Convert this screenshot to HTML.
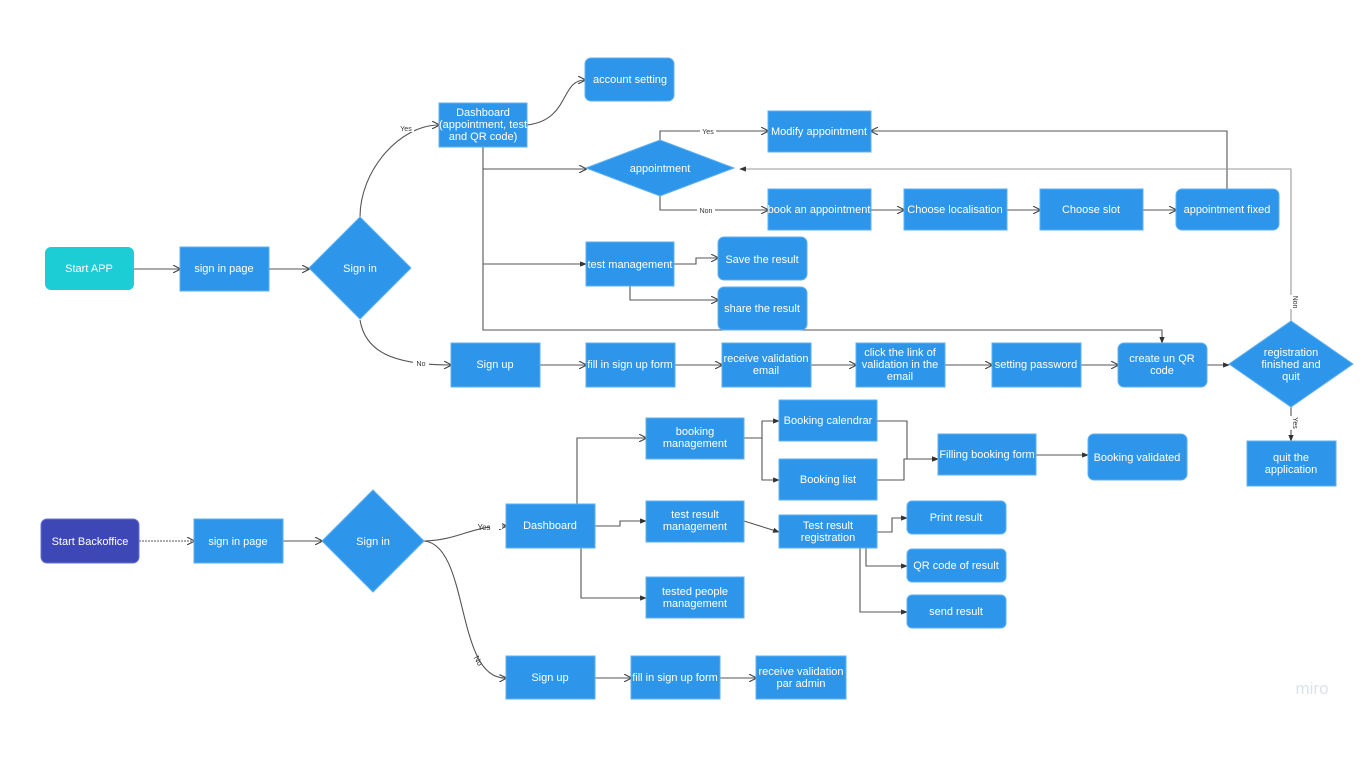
<!DOCTYPE html>
<html><head><meta charset="utf-8"><style>
html,body{margin:0;padding:0;background:#fff;}
svg{display:block}
text{font-family:"Liberation Sans",sans-serif;font-size:11px;fill:#fff;text-anchor:middle;}
.l{fill:#333;font-size:7px;}
path.e{fill:none;stroke:#555;stroke-width:1.1;}
.b{fill:#2d96ea;stroke:#5fb0f0;stroke-width:1;}
</style></head><body>
<svg width="1366" height="768" viewBox="0 0 1366 768" xmlns="http://www.w3.org/2000/svg">
<defs><marker id="a" viewBox="0 0 10 10" refX="9" refY="5" markerWidth="7" markerHeight="7" orient="auto"><path d="M0,0 L10,5 L0,10" fill="none" stroke="#444" stroke-width="1.5"/></marker>
<marker id="f" viewBox="0 0 10 10" refX="9" refY="5" markerWidth="6" markerHeight="6" orient="auto"><path d="M0,1 L10,5 L0,9 z" fill="#333"/></marker></defs>

<!-- edges top -->
<path class="e" d="M134,269 H180" marker-end="url(#a)"/>
<path class="e" d="M269,269 H309" marker-end="url(#a)"/>
<path class="e" d="M360,217 C360,170 400,125 439,125" marker-end="url(#a)"/>
<path class="e" d="M360,320 C365,350 390,365 451,365" marker-end="url(#a)"/>
<path class="e" d="M527,125 C570,120 560,80 585,80" marker-end="url(#a)"/>
<path class="e" d="M483,147 V330 H1162 V343" marker-end="url(#f)"/>
<path class="e" d="M483,169 H586" marker-end="url(#a)"/>
<path class="e" d="M483,264 H586" marker-end="url(#f)"/>
<path class="e" d="M660,140 V131 H768" marker-end="url(#a)"/>
<path class="e" d="M660,196 V210 H768" marker-end="url(#a)"/>
<path class="e" d="M871,210 H904" marker-end="url(#a)"/>
<path class="e" d="M1007,210 H1040" marker-end="url(#a)"/>
<path class="e" d="M1143,210 H1176" marker-end="url(#a)"/>
<path class="e" d="M1227,189 V131 H871" marker-end="url(#a)"/>
<path class="e" d="M1291,321 V169 H740" marker-end="url(#f)" style="stroke:#999"/>
<path class="e" d="M674,264 H696 V258 H718" marker-end="url(#a)"/>
<path class="e" d="M630,286 V300 H718" marker-end="url(#a)"/>
<path class="e" d="M540,365 H586" marker-end="url(#a)"/>
<path class="e" d="M675,365 H722" marker-end="url(#a)"/>
<path class="e" d="M811,365 H856" marker-end="url(#a)"/>
<path class="e" d="M945,365 H992" marker-end="url(#a)"/>
<path class="e" d="M1081,365 H1118" marker-end="url(#a)"/>
<path class="e" d="M1207,365 H1229" marker-end="url(#f)"/>
<path class="e" d="M1291,407 V441" marker-end="url(#f)"/>
<!-- labels -->
<rect x="398" y="124" width="16" height="8" fill="#fff"/><text class="l" x="406" y="131">Yes</text>
<rect x="413" y="359" width="16" height="8" fill="#fff"/><text class="l" x="421" y="366">No</text>
<rect x="700" y="128" width="16" height="7" fill="#fff"/><text class="l" x="708" y="134">Yes</text>
<rect x="697" y="207" width="18" height="7" fill="#fff"/><text class="l" x="706" y="213">Non</text>
<rect x="1286" y="295" width="10" height="14" fill="#fff"/><text class="l" transform="translate(1293,302) rotate(90)">Non</text>
<rect x="1286" y="416" width="10" height="14" fill="#fff"/><text class="l" transform="translate(1293,423) rotate(90)">Yes</text>

<!-- edges bottom -->
<path class="e" d="M139,541 H194" marker-end="url(#a)" style="stroke-dasharray:2 1"/>
<path class="e" d="M283,541 H322" marker-end="url(#a)"/>
<path class="e" d="M424,541 C460,540 470,526 506,526" marker-end="url(#a)"/>
<path class="e" d="M424,541 C470,545 455,680 506,678" marker-end="url(#a)"/>
<path class="e" d="M577,504 V438 H646" marker-end="url(#a)"/>
<path class="e" d="M595,526 H620 V521 H646" marker-end="url(#f)"/>
<path class="e" d="M581,548 V598 H646" marker-end="url(#f)"/>
<path class="e" d="M744,438 H762 V421 H779" marker-end="url(#f)"/>
<path class="e" d="M762,438 V480 H779" marker-end="url(#f)"/>
<path class="e" d="M877,421 H907 V459 H938" marker-end="url(#f)"/>
<path class="e" d="M877,480 H904 V459 H938" marker-end="url(#f)"/>
<path class="e" d="M1036,455 H1088" marker-end="url(#f)"/>
<path class="e" d="M744,521 L779,532" marker-end="url(#f)"/>
<path class="e" d="M877,532 H892 V518 H907" marker-end="url(#f)"/>
<path class="e" d="M866,548 V566 H907" marker-end="url(#f)"/>
<path class="e" d="M860,548 V612 H907" marker-end="url(#f)"/>
<path class="e" d="M595,678 H631" marker-end="url(#a)"/>
<path class="e" d="M720,678 H756" marker-end="url(#a)"/>
<rect x="490" y="521" width="12" height="8" fill="#fff"/><text class="l" x="484" y="530" style="font-size:8px">Yes</text>
<text class="l" transform="translate(476,662) rotate(60)" style="font-size:8px">No</text>

<!-- nodes top -->
<rect x="45" y="247" width="89" height="43" rx="6" fill="#1ccdd6"/><text x="89" y="272">Start APP</text>
<rect class="b" x="180" y="247" width="89" height="44"/><text x="224" y="272">sign in page</text>
<polygon class="b" points="360,217 411,268 360,319 309,268"/><text x="360" y="272">Sign in</text>
<rect class="b" x="439" y="103" width="88" height="44"/><text x="483" y="116">Dashboard</text><text x="483" y="128">(appointment, test</text><text x="483" y="140">and QR code)</text>
<rect class="b" x="585" y="58" width="89" height="43" rx="6"/><text x="630" y="83">account setting</text>
<rect class="b" x="768" y="111" width="103" height="41"/><text x="819" y="135">Modify appointment</text>
<polygon class="b" points="586,168 660,140 734,168 660,196"/><text x="660" y="172">appointment</text>
<rect class="b" x="768" y="189" width="103" height="41"/><text x="819" y="213">book an appointment</text>
<rect class="b" x="904" y="189" width="103" height="41"/><text x="955" y="213">Choose localisation</text>
<rect class="b" x="1040" y="189" width="103" height="41"/><text x="1091" y="213">Choose slot</text>
<rect class="b" x="1176" y="189" width="103" height="41" rx="6"/><text x="1227" y="213">appointment fixed</text>
<rect class="b" x="586" y="242" width="88" height="44"/><text x="630" y="268">test management</text>
<rect class="b" x="718" y="237" width="89" height="43" rx="6"/><text x="762" y="263">Save the result</text>
<rect class="b" x="718" y="287" width="89" height="43" rx="6"/><text x="762" y="312">share the result</text>
<rect class="b" x="451" y="343" width="89" height="44"/><text x="495" y="368">Sign up</text>
<rect class="b" x="586" y="343" width="89" height="44"/><text x="630" y="368">fill in sign up form</text>
<rect class="b" x="722" y="343" width="89" height="44"/><text x="766" y="362">receive validation</text><text x="766" y="374">email</text>
<rect class="b" x="856" y="343" width="89" height="44"/><text x="900" y="356">click the link of</text><text x="900" y="368">validation in the</text><text x="900" y="380">email</text>
<rect class="b" x="992" y="343" width="89" height="44"/><text x="1036" y="368">setting password</text>
<rect class="b" x="1118" y="343" width="89" height="44" rx="6"/><text x="1162" y="362">create un QR</text><text x="1162" y="374">code</text>
<polygon class="b" points="1229,364 1291,321 1353,364 1291,407"/><text x="1291" y="356">registration</text><text x="1291" y="368">finished and</text><text x="1291" y="380">quit</text>
<rect class="b" x="1247" y="441" width="89" height="45"/><text x="1291" y="461">quit the</text><text x="1291" y="473">application</text>

<!-- nodes bottom -->
<rect x="41" y="519" width="98" height="44" rx="6" fill="#3d47b5" stroke="#6a74d0"/><text x="90" y="545">Start Backoffice</text>
<rect class="b" x="194" y="519" width="89" height="44"/><text x="238" y="545">sign in page</text>
<polygon class="b" points="373,490 424,541 373,592 322,541"/><text x="373" y="545">Sign in</text>
<rect class="b" x="506" y="504" width="89" height="44"/><text x="550" y="529">Dashboard</text>
<rect class="b" x="646" y="418" width="98" height="41"/><text x="695" y="435">booking</text><text x="695" y="447">management</text>
<rect class="b" x="646" y="501" width="98" height="41"/><text x="695" y="518">test result</text><text x="695" y="530">management</text>
<rect class="b" x="646" y="577" width="98" height="41"/><text x="695" y="595">tested people</text><text x="695" y="607">management</text>
<rect class="b" x="779" y="400" width="98" height="41"/><text x="828" y="424">Booking calendrar</text>
<rect class="b" x="779" y="459" width="98" height="41"/><text x="828" y="483">Booking list</text>
<rect class="b" x="779" y="515" width="98" height="33"/><text x="828" y="529">Test result</text><text x="828" y="541">registration</text>
<rect class="b" x="938" y="434" width="98" height="41"/><text x="987" y="458">Filling booking form</text>
<rect class="b" x="1088" y="434" width="99" height="46" rx="6"/><text x="1137" y="461">Booking validated</text>
<rect class="b" x="907" y="501" width="99" height="33" rx="5"/><text x="956" y="521">Print result</text>
<rect class="b" x="907" y="549" width="99" height="33" rx="5"/><text x="956" y="569">QR code of result</text>
<rect class="b" x="907" y="595" width="99" height="33" rx="5"/><text x="956" y="615">send result</text>
<rect class="b" x="506" y="656" width="89" height="43"/><text x="550" y="681">Sign up</text>
<rect class="b" x="631" y="656" width="89" height="43"/><text x="675" y="681">fill in sign up form</text>
<rect class="b" x="756" y="656" width="90" height="43"/><text x="801" y="675">receive validation</text><text x="801" y="687">par admin</text>

<text x="1312" y="694" style="fill:#dde3ea;font-size:17px">miro</text>
</svg>
</body></html>
